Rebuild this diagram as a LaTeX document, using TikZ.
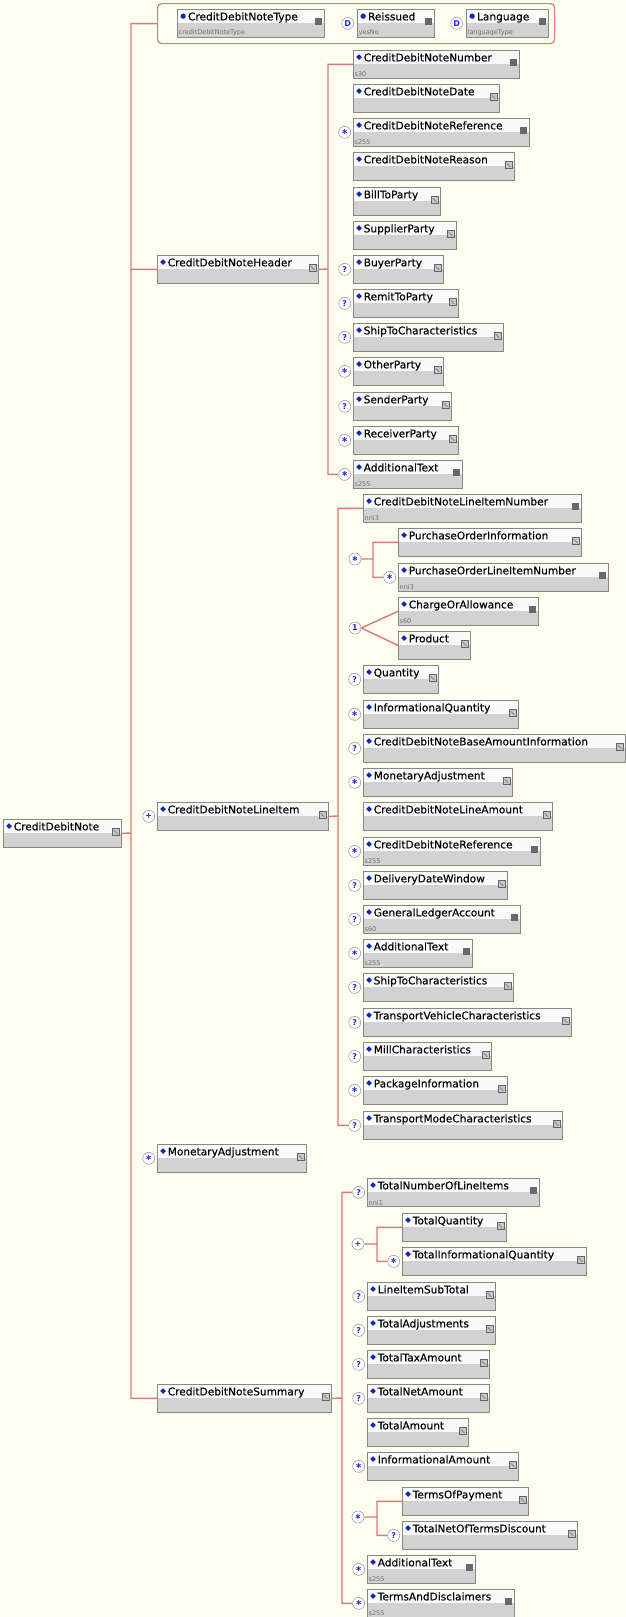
\documentclass[tikz,border=0pt]{standalone}
\usepackage{fontspec}
\setmainfont{DejaVu Sans}
\newfontfamily\elemfont{DejaVu Sans}[FakeBold=0.3]
\usetikzlibrary{positioning}

\definecolor{bgcream}{RGB}{253,253,240}
\definecolor{spinered}{RGB}{222,120,120}
\definecolor{boxgray}{RGB}{210,210,210}
\definecolor{boxtop}{RGB}{250,250,250}
\definecolor{boxedge}{RGB}{135,135,135}
\definecolor{iconlight}{RGB}{200,200,200}
\definecolor{icondark}{RGB}{105,105,105}
\definecolor{iconedge}{RGB}{100,100,100}
\definecolor{diablue}{RGB}{20,40,170}
\definecolor{occblue}{RGB}{40,40,230}
\definecolor{occedge}{RGB}{160,160,180}
\definecolor{subgray}{RGB}{110,110,110}

\newcommand\dia{\textcolor{diablue}{\raisebox{2.5pt}{\fontsize{7}{7}\selectfont ◆}}}
\newcommand\attrdot{\textcolor{diablue}{\raisebox{2.5pt}{\fontsize{6.5}{7}\selectfont ●}}}

\begin{document}
\begin{tikzpicture}[x=1pt,y=-1pt,
                    w/.style={text width=#1pt},
                    lbl/.style={label={[subl]south west:#1}}]
  \tikzstyle{elem}=[anchor=north west,draw=boxedge,fill=boxgray,line width=0.7pt,
                    inner sep=0pt,text height=11pt,text depth=17pt,align=left,
                    font=\elemfont\fontsize{10.6}{12}\selectfont]
  \tikzstyle{lighticon}=[path picture={
      \fill[boxtop] (path picture bounding box.north west) rectangle ([yshift=-14pt]path picture bounding box.north east);
      \filldraw[fill=iconlight,draw=iconedge,line width=0.5pt] ([xshift=-9pt,yshift=-9pt]path picture bounding box.north east) rectangle ++(7pt,-7pt);
      \draw[iconedge,line width=0.5pt] ([xshift=-7.5pt,yshift=-11pt]path picture bounding box.north east) -- ++(3.5pt,-3.5pt);}]
  \tikzstyle{darkicon}=[path picture={
      \fill[boxtop] (path picture bounding box.north west) rectangle ([yshift=-14pt]path picture bounding box.north east);
      \fill[icondark] ([xshift=-9pt,yshift=-9pt]path picture bounding box.north east) rectangle ++(7pt,-7pt);}]
  \tikzstyle{cplx}=[elem,lighticon,execute at begin node={\hspace*{3pt}\dia\hspace{2pt}}]
  \tikzstyle{smpl}=[elem,darkicon,execute at begin node={\hspace*{3pt}\dia\hspace{2pt}}]
  \tikzstyle{attr}=[elem,darkicon,execute at begin node={\hspace*{3pt}\attrdot\hspace{2pt}}]
  \tikzstyle{subl}=[anchor=south west,inner sep=1.5pt,text=subgray,font=\fontsize{6.5}{7}\selectfont]
  \tikzstyle{occ}=[circle,draw=occedge,fill=white,line width=0.6pt,inner sep=0pt,
                   minimum size=12pt,text=occblue,font=\fontsize{8}{8}\selectfont\bfseries]
  \tikzstyle{grp}=[anchor=north west,draw=spinered,line width=1.2pt,rounded corners=4pt,
                   minimum width=397pt,minimum height=40pt,inner sep=0pt]
  \tikzstyle{link}=[draw=spinered,line width=1.4pt]

  \path[use as bounding box,fill=bgcream] (0,0) rectangle (626,1617);

  % root and attributes
  \node[cplx,w=118] (cdn) at (3,819) {CreditDebitNote};
  \node[grp] (attrs) at (157,3) {};
  \node[attr,w=147,lbl=creditDebitNoteType] (aType) at (177,9) {CreditDebitNoteType};
  \node[attr,w=77,lbl=yesNo] (aReissued) at (357,9) {Reissued};
  \node[occ,left=3pt of aReissued] (aReissuedD) {D};
  \node[attr,w=82,lbl=languageType] (aLang) at (466,9) {Language};
  \node[occ,left=3pt of aLang] (aLangD) {D};

  % header
  \node[cplx,w=161] (hdr) at (157,255) {CreditDebitNoteHeader};
  \node[smpl,w=166,lbl=s30] (hNumber) at (353,50) {CreditDebitNoteNumber};
  \node[cplx,w=146] (hDate) at (353,84) {CreditDebitNoteDate};
  \node[smpl,w=176,lbl=s255] (hRef) at (353,118) {CreditDebitNoteReference};
  \node[cplx,w=161] (hReason) at (353,152) {CreditDebitNoteReason};
  \node[cplx,w=87] (hBill) at (353,187) {BillToParty};
  \node[cplx,w=103] (hSupplier) at (353,221) {SupplierParty};
  \node[cplx,w=90] (hBuyer) at (353,255) {BuyerParty};
  \node[cplx,w=105] (hRemit) at (353,289) {RemitToParty};
  \node[cplx,w=150] (hShipTo) at (353,323) {ShipToCharacteristics};
  \node[cplx,w=90] (hOther) at (353,357) {OtherParty};
  \node[cplx,w=98] (hSender) at (353,392) {SenderParty};
  \node[cplx,w=105] (hReceiver) at (353,426) {ReceiverParty};
  \node[smpl,w=109,lbl=s255] (hAddText) at (353,460) {AdditionalText};
  \node[occ,left=2pt of hRef] (hRefOcc) {∗};
  \node[occ,left=2pt of hBuyer] (hBuyerOcc) {?};
  \node[occ,left=2pt of hRemit] (hRemitOcc) {?};
  \node[occ,left=2pt of hShipTo] (hShipToOcc) {?};
  \node[occ,left=2pt of hOther] (hOtherOcc) {∗};
  \node[occ,left=2pt of hSender] (hSenderOcc) {?};
  \node[occ,left=2pt of hReceiver] (hReceiverOcc) {∗};
  \node[occ,left=2pt of hAddText] (hAddTextOcc) {∗};

  % line item
  \node[cplx,w=171] (li) at (157,802) {CreditDebitNoteLineItem};
  \node[occ,left=2pt of li] (liOcc) {+};
  \node[smpl,w=218,lbl=nni3] (liNumber) at (363,494) {CreditDebitNoteLineItemNumber};
  \node[occ] (liPOSeq) at (355,559) {∗};
  \node[cplx,w=183] (liPOInfo) at (398,528) {PurchaseOrderInformation};
  \node[smpl,w=210,lbl=nni3] (liPOLine) at (398,563) {PurchaseOrderLineItemNumber};
  \node[occ,left=2pt of liPOLine] (liPOLineOcc) {∗};
  \node[occ] (liChoice) at (355,628) {1};
  \node[smpl,w=140,lbl=s60] (liCharge) at (398,597) {ChargeOrAllowance};
  \node[cplx,w=72] (liProduct) at (398,631) {Product};
  \node[cplx,w=75] (liQty) at (363,665) {Quantity};
  \node[cplx,w=155] (liInfoQty) at (363,700) {InformationalQuantity};
  \node[cplx,w=262] (liBaseAmt) at (363,734) {CreditDebitNoteBaseAmountInformation};
  \node[cplx,w=149] (liMonAdj) at (363,768) {MonetaryAdjustment};
  \node[cplx,w=189] (liLineAmt) at (363,802) {CreditDebitNoteLineAmount};
  \node[smpl,w=177,lbl=s255] (liRef) at (363,837) {CreditDebitNoteReference};
  \node[cplx,w=144] (liDelivery) at (363,871) {DeliveryDateWindow};
  \node[smpl,w=157,lbl=s60] (liLedger) at (363,905) {GeneralLedgerAccount};
  \node[smpl,w=109,lbl=s255] (liAddText) at (363,939) {AdditionalText};
  \node[cplx,w=150] (liShipTo) at (363,973) {ShipToCharacteristics};
  \node[cplx,w=208] (liVehicle) at (363,1008) {TransportVehicleCharacteristics};
  \node[cplx,w=128] (liMill) at (363,1042) {MillCharacteristics};
  \node[cplx,w=144] (liPackage) at (363,1076) {PackageInformation};
  \node[cplx,w=199] (liTransMode) at (363,1111) {TransportModeCharacteristics};
  \node[occ,left=2pt of liQty] (liQtyOcc) {?};
  \node[occ,left=2pt of liInfoQty] (liInfoQtyOcc) {∗};
  \node[occ,left=2pt of liBaseAmt] (liBaseAmtOcc) {?};
  \node[occ,left=2pt of liMonAdj] (liMonAdjOcc) {∗};
  \node[occ,left=2pt of liRef] (liRefOcc) {∗};
  \node[occ,left=2pt of liDelivery] (liDeliveryOcc) {?};
  \node[occ,left=2pt of liLedger] (liLedgerOcc) {?};
  \node[occ,left=2pt of liAddText] (liAddTextOcc) {∗};
  \node[occ,left=2pt of liShipTo] (liShipToOcc) {?};
  \node[occ,left=2pt of liVehicle] (liVehicleOcc) {?};
  \node[occ,left=2pt of liMill] (liMillOcc) {?};
  \node[occ,left=2pt of liPackage] (liPackageOcc) {∗};
  \node[occ,left=2pt of liTransMode] (liTransModeOcc) {?};

  % monetary adjustment
  \node[cplx,w=149] (monAdj) at (157,1144) {MonetaryAdjustment};
  \node[occ,left=2pt of monAdj] (monAdjOcc) {∗};

  % summary
  \node[cplx,w=174] (sum) at (157,1384) {CreditDebitNoteSummary};
  \node[smpl,w=172,lbl=nni1] (sNumLines) at (367,1178) {TotalNumberOfLineItems};
  \node[occ] (sQtySeq) at (358,1244) {+};
  \node[cplx,w=104] (sTotQty) at (402,1213) {TotalQuantity};
  \node[cplx,w=184] (sTotInfoQty) at (402,1247) {TotalInformationalQuantity};
  \node[occ,left=2pt of sTotInfoQty] (sTotInfoQtyOcc) {∗};
  \node[cplx,w=128] (sSubTotal) at (367,1282) {LineItemSubTotal};
  \node[cplx,w=128] (sAdjust) at (367,1316) {TotalAdjustments};
  \node[cplx,w=122] (sTax) at (367,1350) {TotalTaxAmount};
  \node[cplx,w=122] (sNet) at (367,1384) {TotalNetAmount};
  \node[cplx,w=101] (sAmount) at (367,1418) {TotalAmount};
  \node[cplx,w=151] (sInfoAmt) at (367,1452) {InformationalAmount};
  \node[occ] (sTermsSeq) at (358,1517) {∗};
  \node[cplx,w=126] (sPayTerms) at (402,1487) {TermsOfPayment};
  \node[cplx,w=175] (sNetTerms) at (402,1521) {TotalNetOfTermsDiscount};
  \node[occ,left=2pt of sNetTerms] (sNetTermsOcc) {?};
  \node[smpl,w=108,lbl=s255] (sAddText) at (367,1555) {AdditionalText};
  \node[smpl,w=147,lbl=s255] (sDisclaim) at (367,1589) {TermsAndDisclaimers};
  \node[occ,left=2pt of sNumLines] (sNumLinesOcc) {?};
  \node[occ,left=2pt of sSubTotal] (sSubTotalOcc) {?};
  \node[occ,left=2pt of sAdjust] (sAdjustOcc) {?};
  \node[occ,left=2pt of sTax] (sTaxOcc) {?};
  \node[occ,left=2pt of sNet] (sNetOcc) {?};
  \node[occ,left=2pt of sInfoAmt] (sInfoAmtOcc) {∗};
  \node[occ,left=2pt of sAddText] (sAddTextOcc) {∗};
  \node[occ,left=2pt of sDisclaim] (sDisclaimOcc) {∗};

  % connectors
  \coordinate (rootSpine) at (131,833);
  \coordinate (hdrSpine) at (328,269);
  \coordinate (liSpine) at (338,816);
  \coordinate (poSpine) at (373,559);
  \coordinate (sumSpine) at (342,1398);
  \coordinate (qtySpine) at (377,1244);
  \coordinate (termsSpine) at (377,1517);

  \path[link] (cdn.east) -- (rootSpine)
              (attrs.west) -| (rootSpine) |- (sum.west)
              (rootSpine |- hdr.west) -- (hdr.west);
  \path[link] (hdr.east) -- (hdrSpine)
              (hNumber.west) -| (hdrSpine) |- (hAddTextOcc.west);
  \path[link] (li.east) -- (liSpine)
              (liNumber.west) -| (liSpine) |- (liTransModeOcc.west)
              (liPOSeq.east) -- (poSpine)
              (liPOInfo.west) -| (poSpine) |- (liPOLineOcc.west)
              (liChoice.east) -- (liCharge.west)
              (liChoice.east) -- (liProduct.west);
  \path[link] (sum.east) -- (sumSpine)
              (sNumLinesOcc.west) -| (sumSpine) |- (sDisclaimOcc.west)
              (sQtySeq.east) -- (qtySpine)
              (sTotQty.west) -| (qtySpine) |- (sTotInfoQtyOcc.west)
              (sTermsSeq.east) -- (termsSpine)
              (sPayTerms.west) -| (termsSpine) |- (sNetTermsOcc.west);
\end{tikzpicture}
\end{document}
